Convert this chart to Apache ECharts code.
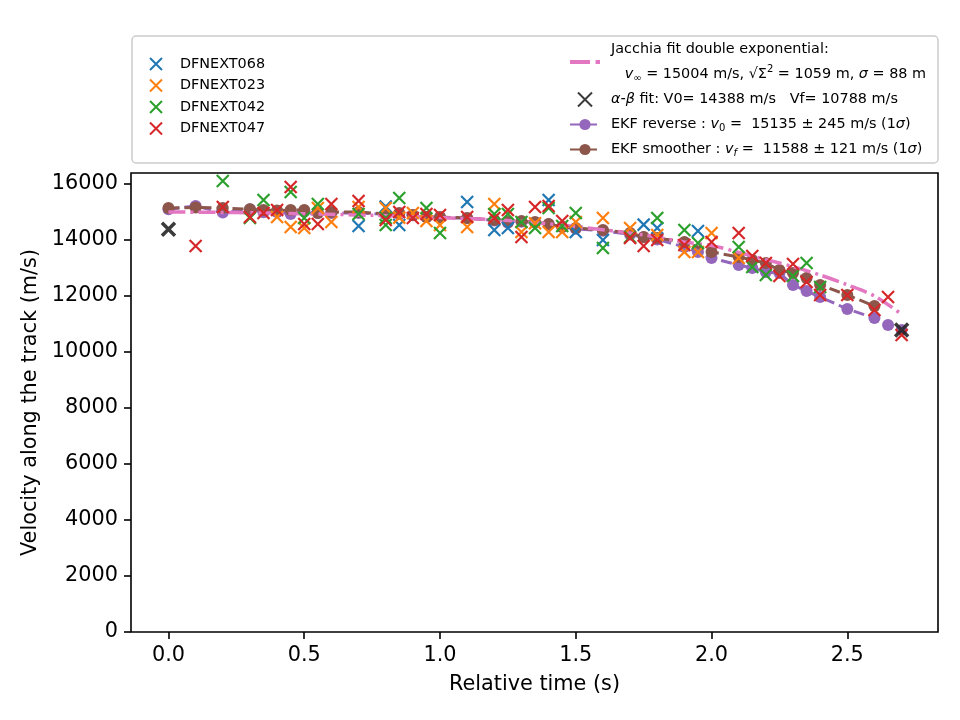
<!DOCTYPE html>
<html>
<head>
<meta charset="utf-8">
<script src="https://cdn.jsdelivr.net/npm/echarts@6/dist/echarts.min.js"></script>
<style>
  html, body { margin: 0; padding: 0; background: #fff; }
  #chart { width: 960px; height: 720px; }
</style>
</head>
<body>
<div id="chart"></div>
<script>
// observations per camera (time s, velocity m/s)
var t068 = [0.7, 0.8, 0.85, 1.1, 1.2, 1.25, 1.4, 1.5, 1.6, 1.75, 1.8, 1.95];
var v068 = [14500, 15200, 14536, 15357, 14357, 14429, 15429, 14286, 14000, 14550, 14429, 14321];

var t023 = [0.4, 0.45, 0.5, 0.55, 0.6, 0.7, 0.8, 0.85, 0.9, 0.95, 1.0, 1.1, 1.2, 1.3, 1.35, 1.4, 1.45, 1.5, 1.6, 1.7, 1.8, 1.9, 1.95, 2.0, 2.1];
var v023 = [14821, 14464, 14429, 15143, 14643, 15179, 15143, 14800, 14964, 14679, 14536, 14464, 15286, 14286, 14600, 14286, 14286, 14643, 14786, 14429, 14179, 13571, 13571, 14250, 13357];

var t042 = [0.2, 0.3, 0.35, 0.45, 0.5, 0.55, 0.7, 0.8, 0.8, 0.85, 0.95, 1.0, 1.2, 1.25, 1.3, 1.35, 1.4, 1.45, 1.5, 1.6, 1.7, 1.8, 1.9, 1.95, 2.1, 2.15, 2.2, 2.3, 2.35, 2.4];
var v042 = [16107, 14786, 15429, 15714, 14786, 15286, 14929, 14786, 14536, 15500, 15143, 14250, 14929, 14929, 14643, 14429, 15143, 14500, 14964, 13714, 14107, 14786, 14357, 13893, 13750, 13036, 12750, 12714, 13179, 12321];

var t047 = [0.1, 0.2, 0.3, 0.35, 0.4, 0.45, 0.5, 0.55, 0.6, 0.7, 0.8, 0.85, 0.9, 0.95, 1.0, 1.1, 1.2, 1.25, 1.3, 1.35, 1.4, 1.45, 1.7, 1.75, 1.8, 1.9, 2.0, 2.1, 2.15, 2.2, 2.25, 2.3, 2.35, 2.4, 2.5, 2.6, 2.65, 2.7];
var v047 = [13786, 15179, 14821, 14964, 15071, 15893, 14571, 14571, 15286, 15393, 14714, 15000, 14786, 14929, 14893, 14821, 14786, 15071, 14107, 15179, 15214, 14679, 14071, 13786, 14000, 13821, 13929, 14250, 13429, 13179, 12714, 13143, 12500, 12036, 12036, 11500, 11964, 10607];

// EKF reverse
var tRev = [0, 0.1, 0.2, 0.3, 0.35, 0.4, 0.45, 0.5, 0.55, 0.6, 0.7, 0.8, 0.85, 0.9, 0.95, 1.0, 1.1, 1.2, 1.25, 1.3, 1.35, 1.4, 1.45, 1.5, 1.6, 1.7, 1.75, 1.8, 1.9, 1.95, 2.0, 2.1, 2.15, 2.2, 2.25, 2.3, 2.35, 2.4, 2.5, 2.6, 2.65, 2.7];
var vRev = [15100, 15214, 14980, 15100, 14990, 15000, 14930, 15020, 14960, 14960, 14960, 14920, 14930, 14880, 14820, 14800, 14780, 14700, 14620, 14650, 14620, 14560, 14460, 14400, 14330, 14200, 14100, 14020, 13750, 13570, 13357, 13107, 13000, 12857, 12821, 12393, 12180, 11964, 11536, 11214, 10964, 10786];

// EKF smoother
var tSm = [0, 0.1, 0.2, 0.3, 0.35, 0.4, 0.45, 0.5, 0.55, 0.6, 0.7, 0.8, 0.85, 0.9, 0.95, 1.0, 1.1, 1.2, 1.25, 1.3, 1.35, 1.4, 1.45, 1.5, 1.6, 1.7, 1.75, 1.8, 1.9, 2.0, 2.1, 2.15, 2.2, 2.25, 2.3, 2.35, 2.4, 2.5, 2.6];
var vSm = [15143, 15160, 15143, 15100, 15071, 15050, 15071, 15071, 14964, 15000, 15000, 14929, 14964, 14893, 14821, 14821, 14786, 14714, 14643, 14679, 14643, 14571, 14464, 14429, 14357, 14250, 14107, 14071, 13929, 13571, 13393, 13286, 13179, 12929, 12821, 12643, 12393, 12036, 11643];

// Jacchia fit curve
var tJac = [0, 0.25, 0.5, 0.75, 1.0, 1.25, 1.5, 1.75, 1.9, 2.0, 2.1, 2.2, 2.3, 2.4, 2.5, 2.6, 2.7];
var vJac = [15000, 14980, 14940, 14880, 14800, 14700, 14480, 14179, 13929, 13800, 13560, 13300, 13050, 12750, 12400, 12000, 11350];

// alpha-beta fit
var tAB = [0, 2.7];
var vAB = [14388, 10788];

var yTicks = [0, 2000, 4000, 6000, 8000, 10000, 12000, 14000, 16000];
var xTicks = [0, 0.5, 1.0, 1.5, 2.0, 2.5];

function pairs(t, v) {
	var out = [];
	for (var i = 0; i < t.length; i++) out.push([t[i], v[i]]);
	return out;
}

var FONT = 'DejaVu Sans';
var XPATH = 'path://M0,0L10,10M0,10L10,0';
// dash-dot handle for the legend
var DASHDOT = 'path://M0,0H18V3.5H0Z M23,0H27V3.5H23Z';

function crossSeries(name, t, v, color) {
	return {
		name: name,
		type: 'scatter',
		data: pairs(t, v),
		symbol: XPATH,
		symbolSize: 12,
		z: 5,
		itemStyle: { color: color, borderColor: color, borderWidth: 2.2, opacity: 1 },
		emphasis: { disabled: true }
	};
}

var labels = {
	'Jacchia': '{t|Jacchia fit double exponential:}\n{t|   }{i|v}{sub|\u221e}{t| = 15004 m/s, \u221a}{t|\u03a3}{sup|2}{t| = 1059 m, }{i|\u03c3}{t| = 88 m}',
	'alphabeta': '{i|\u03b1-\u03b2}{t| fit: V0= 14388 m/s   Vf= 10788 m/s}',
	'EKF reverse': '{t|EKF reverse : }{i|v}{sub|0}{t| =  15135 \u00b1 245 m/s (1}{i|\u03c3}{t|)}',
	'EKF smoother': '{t|EKF smoother : }{i|v}{isub|f}{t| =  11588 \u00b1 121 m/s (1}{i|\u03c3}{t|)}'
};

var rich = {
	t: { fontFamily: FONT, fontSize: 14.4, color: '#000', lineHeight: 25 },
	i: { fontFamily: FONT, fontSize: 14.4, fontStyle: 'italic', color: '#000', lineHeight: 25 },
	sub: { fontFamily: FONT, fontSize: 10, color: '#000', lineHeight: 25, padding: [8, 0, 0, 0] },
	isub: { fontFamily: FONT, fontSize: 10, fontStyle: 'italic', color: '#000', lineHeight: 25, padding: [8, 0, 0, 0] },
	sup: { fontFamily: FONT, fontSize: 10, color: '#000', lineHeight: 25, padding: [0, 0, 10, 0] }
};

var chart = echarts.init(document.getElementById('chart'));

var option = {
	backgroundColor: '#fff',
	animation: false,
	grid: {
		left: 131, right: 22, top: 173, bottom: 88,
		show: true, borderColor: '#000', borderWidth: 1.6, backgroundColor: 'transparent'
	},
	graphic: [{
		type: 'rect',
		z: 1,
		shape: { x: 132, y: 36, width: 806, height: 127, r: 4 },
		style: { fill: 'rgba(255,255,255,0.8)', stroke: '#cccccc', lineWidth: 1.5 }
	}],
	legend: [{
		data: ['DFNEXT068', 'DFNEXT023', 'DFNEXT042', 'DFNEXT047'],
		orient: 'vertical',
		left: 149, top: 57,
		padding: 0,
		itemWidth: 30, itemHeight: 12,
		itemGap: 7.5,
		selectedMode: false,
		textStyle: { fontFamily: FONT, fontSize: 14.4, color: '#000', padding: [0, 0, 0, 4] }
	}, {
		data: [
			{ name: 'Jacchia', icon: DASHDOT, itemStyle: { color: '#e377c2', borderWidth: 0 } },
			'alphabeta', 'EKF reverse', 'EKF smoother'
		],
		orient: 'vertical',
		left: 569, top: 37,
		padding: 0,
		itemWidth: 30, itemHeight: 14,
		itemGap: 0,
		selectedMode: false,
		formatter: function (name) { return labels[name]; },
		textStyle: { fontFamily: FONT, fontSize: 14.4, color: '#000', lineHeight: 25, padding: [0, 0, 0, 6], rich: rich }
	}],
	xAxis: {
		type: 'value',
		min: -0.138, max: 2.834,
		name: 'Relative time (s)',
		nameLocation: 'middle',
		nameGap: 42,
		nameTextStyle: { fontFamily: FONT, fontSize: 20.8, color: '#000' },
		axisLine: { show: false, onZero: false },
		splitLine: { show: false },
		axisTick: { show: true, length: 7, lineStyle: { color: '#000', width: 1.6 }, customValues: xTicks },
		axisLabel: {
			customValues: xTicks, margin: 13,
			fontFamily: FONT, fontSize: 20.8, color: '#000',
			formatter: function (v) { return v.toFixed(1); }
		}
	},
	yAxis: {
		type: 'value',
		min: 0, max: 16393,
		name: 'Velocity along the track (m/s)',
		nameLocation: 'middle',
		nameGap: 86,
		nameTextStyle: { fontFamily: FONT, fontSize: 20.8, color: '#000' },
		axisLine: { show: false, onZero: false },
		splitLine: { show: false },
		axisTick: { show: true, length: 7, lineStyle: { color: '#000', width: 1.6 }, customValues: yTicks },
		axisLabel: {
			customValues: yTicks, margin: 13,
			fontFamily: FONT, fontSize: 20.8, color: '#000',
			formatter: function (v) { return String(v); }
		}
	},
	series: [
		crossSeries('DFNEXT068', t068, v068, '#1f77b4'),
		crossSeries('DFNEXT023', t023, v023, '#ff7f0e'),
		crossSeries('DFNEXT042', t042, v042, '#2ca02c'),
		crossSeries('DFNEXT047', t047, v047, '#d62728'),
		{
			name: 'Jacchia',
			type: 'line',
			data: pairs(tJac, vJac),
			smooth: 0.3,
			showSymbol: false,
			symbol: 'none',
			z: 4,
			lineStyle: { color: '#e377c2', width: 3.5, type: [17, 5, 3, 5] },
			itemStyle: { color: '#e377c2' }
		},
		{
			name: 'alphabeta',
			type: 'scatter',
			data: pairs(tAB, vAB),
			symbol: XPATH,
			symbolSize: 13,
			z: 6,
			itemStyle: { color: '#262626', borderColor: '#262626', borderWidth: 3.5, opacity: 0.9 }
		},
		{
			name: 'EKF reverse',
			type: 'line',
			data: pairs(tRev, vRev),
			symbol: 'circle',
			symbolSize: 12,
			z: 2,
			lineStyle: { color: '#9467bd', width: 3, type: [11, 5] },
			itemStyle: { color: '#9467bd' }
		},
		{
			name: 'EKF smoother',
			type: 'line',
			data: pairs(tSm, vSm),
			symbol: 'circle',
			symbolSize: 12,
			z: 3,
			lineStyle: { color: '#8c564b', width: 3, type: [11, 5] },
			itemStyle: { color: '#8c564b' }
		}
	]
};

chart.setOption(option);
</script>
</body>
</html>
